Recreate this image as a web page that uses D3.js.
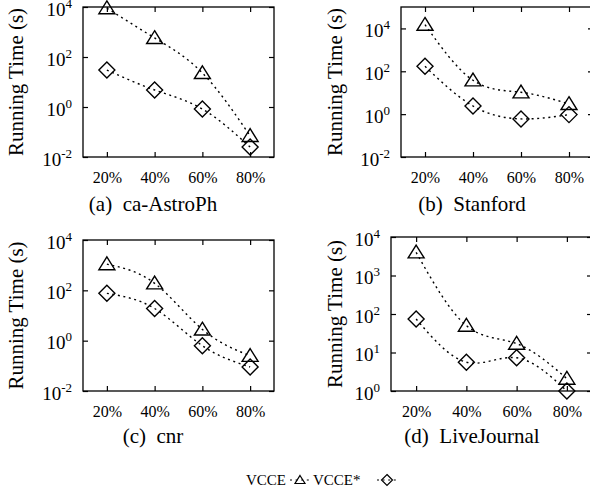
<!DOCTYPE html>
<html>
<head>
<meta charset="utf-8">
<script src="https://cdn.jsdelivr.net/npm/d3@7"></script>
<style>
  body { margin: 0; background: #fff; }
  svg text { font-family: "Liberation Serif", "Times New Roman", Times, serif; fill: #000; }
</style>
</head>
<body>
<div id="chart"></div>
<script>
// x positions (% of something) and their labels
const xValues = [20, 40, 60, 80];
const xLabels = ["20%", "40%", "60%", "80%"];

// running times in seconds
const astroVcce = [9000, 580, 23, 0.07];
const astroVcceStar = [30, 4.8, 0.83, 0.025];
const stanfordVcce = [15000, 38, 10.5, 3.0];
const stanfordVcceStar = [170, 2.4, 0.6, 0.95];
const cnrVcce = [1100, 190, 2.8, 0.25];
const cnrVcceStar = [76, 19, 0.63, 0.09];
const ljVcce = [4000, 50, 17, 2.1];
const ljVcceStar = [74, 5.6, 7.3, 1.0];

// y tick values
const yTicksWide = [1e-2, 1e0, 1e2, 1e4];
const yTicksLJ = [1e0, 1e1, 1e2, 1e3, 1e4];

const seriesNames = ["VCCE", "VCCE*"];

const serif = "'Liberation Serif', 'Times New Roman', Times, serif";

// layout of the four sub plots
const panels = [
  { caption: "(a)  ca-AstroPh", x0: 83, x1: 274, y0: 7, y1: 157, yDomain: [1e-2, 1e4],
    yTicks: yTicksWide, series: [astroVcce, astroVcceStar], labelX: 23, capX: 153, capY: 211 },
  { caption: "(b)  Stanford", x0: 401, x1: 593, y0: 7, y1: 157, yDomain: [1e-2, 1e5],
    yTicks: yTicksWide, series: [stanfordVcce, stanfordVcceStar], labelX: 342, capX: 472, capY: 211 },
  { caption: "(c)  cnr", x0: 83, x1: 274, y0: 240, y1: 391, yDomain: [1e-2, 1e4],
    yTicks: yTicksWide, series: [cnrVcce, cnrVcceStar], labelX: 23, capX: 153, capY: 443 },
  { caption: "(d)  LiveJournal", x0: 391, x1: 592, y0: 237, y1: 391, yDomain: [1e0, 1e4],
    yTicks: yTicksLJ, series: [ljVcce, ljVcceStar], labelX: 342, capX: 472, capY: 443 }
];

const dash = "2,3.6";
const triPath = s => `M0,${-s * 0.9}L${s},${s * 0.7}L${-s},${s * 0.7}Z`;
const diaPath = s => `M0,${-s}L${s},0L0,${s}L${-s},0Z`;
const markers = [triPath, diaPath];

const svg = d3.select("#chart").append("svg")
    .attr("width", 590)
    .attr("height", 490);

panels.forEach(p => {
  const x = d3.scaleLinear().domain([10, 90]).range([p.x0, p.x1]);
  const y = d3.scaleLog().domain(p.yDomain).range([p.y1, p.y0]);
  const g = svg.append("g");

  // frame
  g.append("rect")
      .attr("x", p.x0).attr("y", p.y0)
      .attr("width", p.x1 - p.x0).attr("height", p.y1 - p.y0)
      .attr("fill", "none").attr("stroke", "#000").attr("stroke-width", 1.3);

  // bottom axis with labels
  const bottom = g.append("g")
      .attr("transform", `translate(0,${p.y1})`)
      .call(d3.axisBottom(x).tickValues(xValues).tickSize(-5)
        .tickFormat((d, i) => xLabels[i]));
  bottom.selectAll("text").attr("y", 26).attr("dy", null)
      .style("font-family", serif).style("font-size", "16px");

  // mirror ticks on top
  g.append("g")
      .attr("transform", `translate(0,${p.y0})`)
      .call(d3.axisTop(x).tickValues(xValues).tickSize(-5).tickFormat(""));

  // left axis with 10^n labels
  const left = g.append("g")
      .attr("transform", `translate(${p.x0},0)`)
      .call(d3.axisLeft(y).tickValues(p.yTicks).tickSize(-5));
  left.selectAll(".tick text").each(function(d) {
    const t = d3.select(this).text(null)
        .attr("x", -11).attr("dy", "8px")
        .style("font-family", serif).style("font-size", "19px");
    t.append("tspan").text("10");
    t.append("tspan").attr("dy", -8).style("font-size", "13px")
        .text(String(Math.round(Math.log10(d))));
  });

  // mirror ticks on right
  g.append("g")
      .attr("transform", `translate(${p.x1},0)`)
      .call(d3.axisRight(y).tickValues(p.yTicks).tickSize(-5).tickFormat(""));

  g.selectAll(".domain").remove();
  g.selectAll("g").attr("font-family", null).attr("font-size", null);
  g.selectAll(".tick line").attr("stroke", "#000").attr("stroke-width", 1.2);

  // y label
  g.append("text")
      .attr("transform", `translate(${p.labelX},${(p.y0 + p.y1) / 2}) rotate(-90)`)
      .attr("text-anchor", "middle")
      .style("font-family", serif)
      .style("font-size", "21px")
      .text("Running Time (s)");

  // caption
  g.append("text")
      .attr("x", p.capX).attr("y", p.capY)
      .attr("text-anchor", "middle")
      .style("font-family", serif)
      .style("font-size", "21px")
      .style("white-space", "pre")
      .text(p.caption);

  const line = d3.line()
      .x((d, i) => x(xValues[i]))
      .y(d => y(d))
      .curve(d3.curveNatural);

  p.series.forEach((vals, k) => {
    g.append("path")
        .datum(vals)
        .attr("d", line)
        .attr("fill", "none")
        .attr("stroke", "#000")
        .attr("stroke-width", 1.4)
        .attr("stroke-dasharray", dash);

    g.selectAll(null)
        .data(vals)
      .enter().append("path")
        .attr("transform", (d, i) => `translate(${x(xValues[i])},${y(d)})`)
        .attr("d", markers[k](8))
        .attr("fill", "none")
        .attr("stroke", "#000")
        .attr("stroke-width", 1.4);
  });
});

// legend at the bottom
const legend = svg.append("g").attr("transform", "translate(0,480)");
const legendItems = [
  { textX: 246, sampleX: 290 },
  { textX: 313, sampleX: 377 }
];
legendItems.forEach((it, k) => {
  legend.append("text")
      .attr("x", it.textX).attr("y", 5)
      .style("font-family", serif)
      .style("font-size", "15px")
      .text(seriesNames[k]);
  legend.append("line")
      .attr("x1", it.sampleX).attr("x2", it.sampleX + 20)
      .attr("stroke", "#000").attr("stroke-width", 1.2)
      .attr("stroke-dasharray", dash);
  legend.append("path")
      .attr("transform", `translate(${it.sampleX + 10},0)`)
      .attr("d", markers[k](k === 0 ? 5 : 5.5))
      .attr("fill", "none").attr("stroke", "#000").attr("stroke-width", 1.2);
});
</script>
</body>
</html>
